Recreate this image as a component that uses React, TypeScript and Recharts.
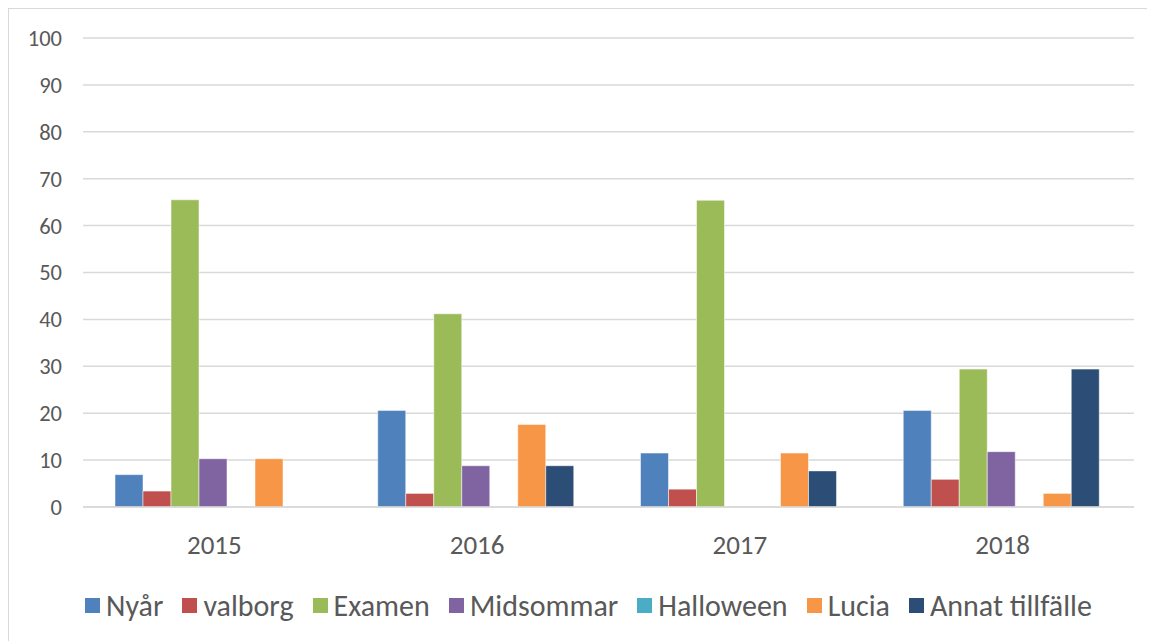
import React from 'react'
import { BarChart, Bar, XAxis, YAxis, CartesianGrid, Legend } from 'recharts'

// share of answers per occasion and year (percent)
const years = ['2015', '2016', '2017', '2018']
const nyar = [6.9, 20.6, 11.5, 20.6]
const valborg = [3.4, 2.9, 3.8, 5.9]
const examen = [65.5, 41.2, 65.4, 29.4]
const midsommar = [10.3, 8.8, 0, 11.8]
const halloween = [0, 0, 0, 0]
const lucia = [10.3, 17.6, 11.5, 2.9]
const annat = [0, 8.8, 7.7, 29.4]
const yTicks = [0, 10, 20, 30, 40, 50, 60, 70, 80, 90, 100]

const series = [
  { key: 'nyar', name: 'Nyår', color: '#4F81BD', values: nyar },
  { key: 'valborg', name: 'valborg', color: '#C0504D', values: valborg },
  { key: 'examen', name: 'Examen', color: '#9BBB59', values: examen },
  { key: 'midsommar', name: 'Midsommar', color: '#8064A2', values: midsommar },
  { key: 'halloween', name: 'Halloween', color: '#4BACC6', values: halloween },
  { key: 'lucia', name: 'Lucia', color: '#F79646', values: lucia },
  { key: 'annat', name: 'Annat tillfälle', color: '#2C4D75', values: annat },
]

const data = years.map((year, i) => {
  const row: Record<string, string | number> = { year }
  series.forEach((s) => {
    row[s.key] = s.values[i]
  })
  return row
})

const FONT = 'Carlito, Lato, "Liberation Sans", sans-serif'
const TEXT = '#595959'

function renderLegend() {
  return (
    <div
      style={{
        display: 'flex',
        justifyContent: 'center',
        alignItems: 'center',
        height: 36,
        paddingLeft: 34,
        fontFamily: FONT,
        fontSize: 30,
        color: TEXT,
      }}
    >
      {series.map((s, i) => (
        <div
          key={s.key}
          style={{ display: 'flex', alignItems: 'center', marginRight: i === series.length - 1 ? 0 : 19 }}
        >
          <span
            style={{
              display: 'inline-block',
              width: 15,
              height: 15,
              background: s.color,
              marginRight: 6,
            }}
          />
          <span>{s.name}</span>
        </div>
      ))}
    </div>
  )
}

export default function App() {
  return (
    <div
      style={{
        width: 1139,
        height: 632,
        border: '1px solid #D9D9D9',
        background: '#fff',
        fontFamily: FONT,
      }}
    >
      <BarChart
        width={1139}
        height={632}
        data={data}
        margin={{ top: 29, right: 14, bottom: 36, left: 0 }}
        barGap={0}
        barCategoryGap={32}
      >
        <CartesianGrid vertical={false} stroke="#D9D9D9" strokeWidth={1.5} />
        <XAxis
          dataKey="year"
          axisLine={{ stroke: '#D9D9D9', strokeWidth: 1.5 }}
          tickLine={false}
          tick={{ fontSize: 27, fill: TEXT, fontFamily: FONT }}
          tickMargin={22}
          height={62}
        />
        <YAxis
          domain={[0, 100]}
          ticks={yTicks}
          interval={0}
          axisLine={false}
          tickLine={false}
          tick={{ fontSize: 22.5, fill: TEXT, fontFamily: FONT }}
          tickMargin={15}
          width={74}
        />
        <Legend verticalAlign="bottom" content={renderLegend} wrapperStyle={{ bottom: 18 }} />
        {series.map((s) => (
          <Bar
            key={s.key}
            dataKey={s.key}
            name={s.name}
            fill={s.color}
            stroke="#ffffff"
            strokeOpacity={0.5}
            strokeWidth={1}
            isAnimationActive={false}
          />
        ))}
      </BarChart>
    </div>
  )
}
